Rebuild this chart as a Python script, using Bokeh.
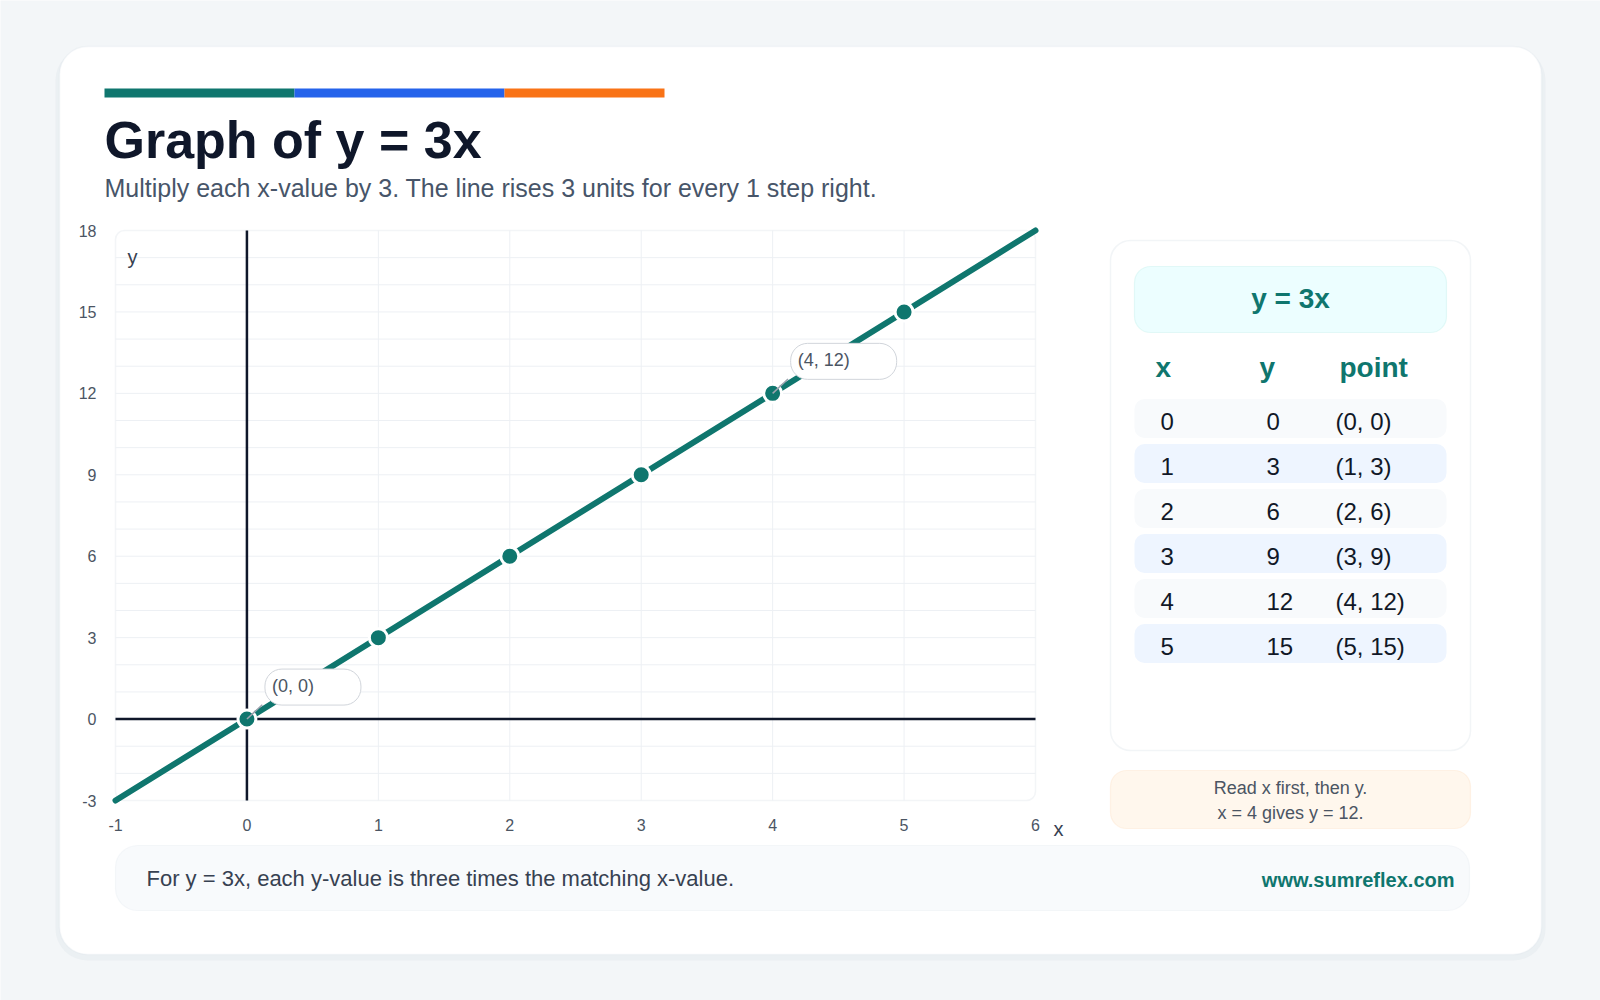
from bokeh.plotting import figure
from bokeh.models import Label, BoxAnnotation, Range1d
from bokeh.core.properties import value
from bokeh.embed import file_html
from bokeh.resources import INLINE

# ---------------- data ----------------
TITLE = "Graph of y = 3x"
SUBTITLE = "Multiply each x-value by 3. The line rises 3 units for every 1 step right."
EQUATION = "y = 3x"
X_POINTS = [0, 1, 2, 3, 4, 5]
Y_POINTS = [0, 3, 6, 9, 12, 15]
LINE_X = [-1, 6]
LINE_Y = [-3, 18]
X_TICKS = [-1, 0, 1, 2, 3, 4, 5, 6]
Y_TICKS = [-3, 0, 3, 6, 9, 12, 15, 18]
Y_MINOR = list(range(-3, 19))
TABLE_HEADERS = ["x", "y", "point"]
TABLE_X = ["0", "1", "2", "3", "4", "5"]
TABLE_Y = ["0", "3", "6", "9", "12", "15"]
TABLE_POINT = ["(0, 0)", "(1, 3)", "(2, 6)", "(3, 9)", "(4, 12)", "(5, 15)"]
CALLOUT_X = [0, 4]
CALLOUT_Y = [0, 12]
CALLOUT_TEXT = ["(0, 0)", "(4, 12)"]
NOTE_LINES = ["Read x first, then y.", "x = 4 gives y = 12."]
FOOTER = "For y = 3x, each y-value is three times the matching x-value."
URL = "www.sumreflex.com"

# ---------------- style / layout ----------------
FONT = "Liberation Sans"
TEAL = "#0f766e"
INK = "#0f172a"
W, H = 1600, 1000
FL, FR, FT, FB = 115, 1035, 230, 800          # chart area in page pixels
X_MIN, X_MAX = X_TICKS[0], X_TICKS[-1]
Y_MIN, Y_MAX = Y_TICKS[0], Y_TICKS[-1]
UX = (FR - FL) / (X_MAX - X_MIN)
UY = (FB - FT) / (Y_MAX - Y_MIN)

# the plotting frame covers the whole page; the data ranges are set so that the
# chart's own range [-1, 6] x [-3, 18] lands on the chart area
p = figure(width=W, height=H,
           x_range=Range1d(X_MIN - FL / UX, X_MAX + (W - FR) / UX),
           y_range=Range1d(Y_MIN - (H - FB) / UY, Y_MAX + FT / UY),
           x_axis_type=None, y_axis_type=None,
           output_backend="svg", toolbar_location=None, min_border=0)
p.grid.visible = False
p.outline_line_color = None
p.background_fill_color = "#f3f6f8"
p.border_fill_color = "#f3f6f8"


def cbox(l, t, r, b, fill, line=None, radius=0, lw=1.0, alpha=1.0, level="image"):
    return BoxAnnotation(left=l, right=r, top=t, bottom=b,
                         left_units="canvas", right_units="canvas",
                         top_units="canvas", bottom_units="canvas",
                         fill_color=fill, fill_alpha=alpha, line_color=line,
                         line_width=lw, border_radius=radius, level=level)


def clabel(x, y, text, size, color, bold=False, align="left", baseline="alphabetic"):
    return Label(x=x, y=y, x_units="canvas", y_units="canvas", text=text,
                 text_font=FONT, text_font_size=f"{size}px",
                 text_font_style="bold" if bold else "normal",
                 text_color=color, text_align=align, text_baseline=baseline)


# card + shadow
p.add_layout(cbox(55, 48, 1545, 960, "#e4e9ee", radius=32, alpha=0.5))
p.add_layout(cbox(59, 46, 1541, 954, "white", line="#dde4ea", radius=28, lw=1.5))

# colour bar
p.add_layout(cbox(104, 88, 294, 97, TEAL))
p.add_layout(cbox(294, 88, 504, 97, "#2563eb"))
p.add_layout(cbox(504, 88, 664, 97, "#f97316"))

# title + subtitle
p.add_layout(clabel(104, 139, TITLE, 52, INK, bold=True))
p.add_layout(clabel(104, 187, SUBTITLE, 25, "#475569"))

# ---------------- chart ----------------
# frame outline
p.add_layout(BoxAnnotation(left=X_MIN, right=X_MAX, bottom=Y_MIN, top=Y_MAX,
                           fill_color=None, line_color="#d8dfe6", line_width=1.5,
                           border_radius=9, level="underlay"))
# grid
gx = X_TICKS[1:-1]
gy = Y_MINOR[1:-1]
p.segment(x0=gx, y0=[Y_MIN] * len(gx), x1=gx, y1=[Y_MAX] * len(gx),
          line_color="#edf0f4", line_width=1)
p.segment(x0=[X_MIN] * len(gy), y0=gy, x1=[X_MAX] * len(gy), y1=gy,
          line_color="#edf0f4", line_width=1)
# axes through the origin
p.segment(x0=[0, X_MIN], y0=[Y_MIN, 0], x1=[0, X_MAX], y1=[Y_MAX, 0],
          line_color=INK, line_width=2.5)

# tick labels
p.text(x=[X_MIN] * len(Y_TICKS), y=Y_TICKS, text=[str(t) for t in Y_TICKS],
       x_offset=-19, text_align="right", text_baseline="middle",
       text_font=value(FONT), text_font_size="16px", text_color="#4b5563")
p.text(x=X_TICKS, y=[Y_MIN] * len(X_TICKS), text=[str(t) for t in X_TICKS],
       y_offset=18, text_align="center", text_baseline="top",
       text_font=value(FONT), text_font_size="16px", text_color="#4b5563")

# line and points
p.line(LINE_X, LINE_Y, line_color=TEAL, line_width=6, line_cap="round")
p.scatter(X_POINTS, Y_POINTS, size=18, fill_color=TEAL, line_color="white", line_width=3)
p.ray(x=CALLOUT_X, y=CALLOUT_Y, length=21, length_units="screen", angle=0.75,
      line_color="#9ca3af", line_width=1.5)

for cx, cy, ct in zip(CALLOUT_X, CALLOUT_Y, CALLOUT_TEXT):
    p.add_layout(Label(x=cx, y=cy, x_offset=18, y_offset=32, text=ct,
                       text_font=FONT, text_font_size="18px", text_color="#4b5563",
                       text_baseline="middle", text_align="left",
                       background_fill_color="white", border_line_color="#d1d5db",
                       border_line_width=1, border_radius=17,
                       padding=(7, 47, 7, 9)))

# axis names
p.add_layout(clabel(127, 256, "y", 20, "#374151"))
p.add_layout(clabel(1053, 828, "x", 20, "#374151"))

# ---------------- right panel ----------------
p.add_layout(cbox(1110, 240, 1470, 750, "white", line="#d5dde5", radius=20, lw=1.5))
p.add_layout(cbox(1134, 266, 1446, 332, "#ecfeff", line="#b4ece6", radius=16, lw=1.2))
p.add_layout(clabel(1290, 298, EQUATION, 28, TEAL, bold=True, align="center"))

HEAD_X = [1155, 1259, 1339]
COL_X = [1160, 1266, 1335]
for hx, ht in zip(HEAD_X, TABLE_HEADERS):
    p.add_layout(clabel(hx, 367, ht, 28, TEAL, bold=True))

for i, (tx, ty, tp) in enumerate(zip(TABLE_X, TABLE_Y, TABLE_POINT)):
    cy = 418 + 45 * i
    fill = "#f8fafc" if i % 2 == 0 else "#eef5ff"
    p.add_layout(cbox(1134, cy - 19.5, 1446, cy + 19.5, fill, radius=10))
    for colx, t in zip(COL_X, (tx, ty, tp)):
        p.add_layout(clabel(colx, cy + 3, t, 24, "#111827"))

# note box
p.add_layout(cbox(1110, 770, 1470, 828, "#fff7ed", line="#fcdcb8", radius=16, lw=1.2))
p.add_layout(clabel(1290, 787, NOTE_LINES[0], 18, "#4b5563", align="center"))
p.add_layout(clabel(1290, 812, NOTE_LINES[1], 18, "#4b5563", align="center"))

# footer
p.add_layout(cbox(115, 845, 1469, 910, "#f8fafc", line="#e2e8f0", radius=22, lw=1.2))
p.add_layout(clabel(146, 878, FOOTER, 22, "#374151"))
p.add_layout(clabel(1454, 879, URL, 20, TEAL, bold=True, align="right"))

open("out.html", "w").write(file_html(p, INLINE))
